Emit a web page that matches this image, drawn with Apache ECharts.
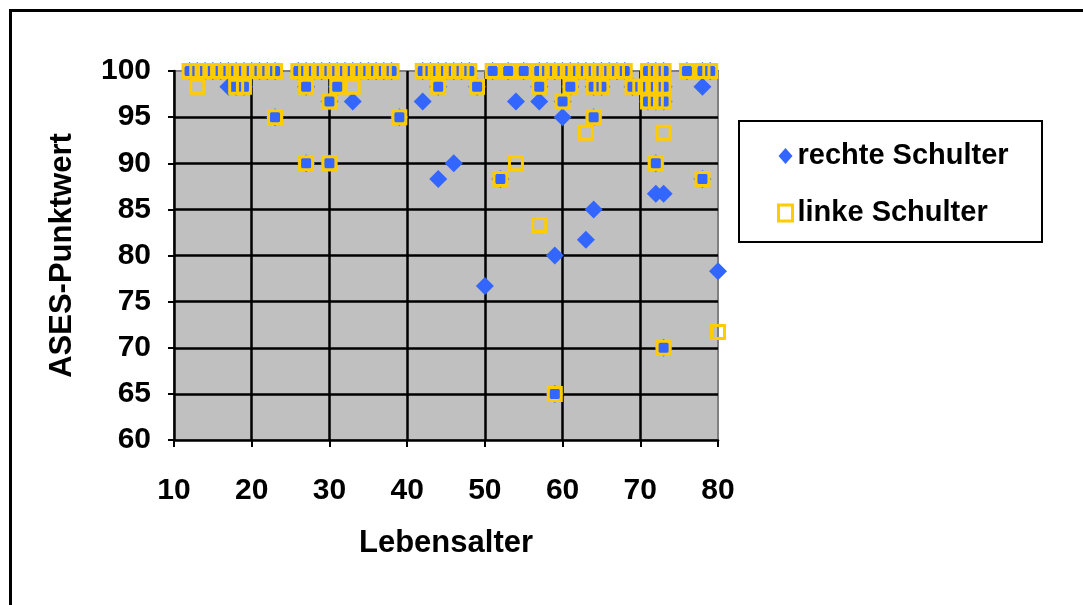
<!DOCTYPE html>
<html>
<head>
<meta charset="utf-8">
<script src="https://cdn.jsdelivr.net/npm/echarts@6/dist/echarts.min.js"></script>
<style>
  html, body { margin: 0; padding: 0; background: #fff; }
  #frame { position: absolute; left: 9px; top: 9px; width: 1200px; height: 700px;
           border-top: 3px solid #000; border-left: 3px solid #000; }
  #main { position: absolute; left: 0; top: 0; width: 1083px; height: 605px; }
</style>
</head>
<body>
<div id="frame"></div>
<div id="main"></div>
<script>
// Lebensalter / ASES-Punktwert, rechte Schulter
const rechteAlter = [
  12, 13, 14, 15, 16, 17, 18, 19, 20, 21, 22, 23,
  26, 27, 28, 29, 30, 31, 32, 33, 34, 35, 36, 37, 38,
  42, 43, 44, 45, 46, 47, 48,
  51, 53, 55, 57, 58, 59, 60, 61, 62, 63, 64, 65, 66, 67, 68,
  71, 72, 73, 76, 78, 79,
  17, 18, 19, 27, 31, 44, 49, 57, 61, 64, 65, 69, 70, 71, 72, 73, 78,
  30, 33, 42, 54, 57, 60, 71, 72, 73,
  23, 39, 60, 64,
  27, 30, 46, 72,
  44, 52, 78,
  72, 73,
  64, 63, 59, 80, 50, 73, 59
]
const rechteWert = [
  100, 100, 100, 100, 100, 100, 100, 100, 100, 100, 100, 100,
  100, 100, 100, 100, 100, 100, 100, 100, 100, 100, 100, 100, 100,
  100, 100, 100, 100, 100, 100, 100,
  100, 100, 100, 100, 100, 100, 100, 100, 100, 100, 100, 100, 100, 100, 100,
  100, 100, 100, 100, 100, 100,
  98.3, 98.3, 98.3, 98.3, 98.3, 98.3, 98.3, 98.3, 98.3, 98.3, 98.3, 98.3, 98.3, 98.3, 98.3, 98.3, 98.3,
  96.7, 96.7, 96.7, 96.7, 96.7, 96.7, 96.7, 96.7, 96.7,
  95, 95, 95, 95,
  90, 90, 90, 90,
  88.3, 88.3, 88.3,
  86.7, 86.7,
  85, 81.7, 80, 78.3, 76.7, 70, 65
]

// linke Schulter
const linkeAlter = [
  12, 13, 14, 15, 16, 17, 18, 19, 20, 21, 22, 23,
  26, 27, 28, 29, 30, 31, 32, 33, 34, 35, 36, 37, 38,
  42, 43, 44, 45, 46, 47, 48,
  51, 53, 55, 57, 58, 59, 60, 61, 62, 63, 64, 65, 66, 67, 68,
  71, 72, 73, 76, 78, 79,
  13, 18, 19, 27, 31, 33, 44, 49, 57, 61, 64, 65, 69, 70, 71, 72, 73,
  30, 60, 71, 72, 73,
  23, 39, 64,
  63, 73,
  27, 30, 54, 72,
  52, 78,
  57, 80, 73, 59
]
const linkeWert = [
  100, 100, 100, 100, 100, 100, 100, 100, 100, 100, 100, 100,
  100, 100, 100, 100, 100, 100, 100, 100, 100, 100, 100, 100, 100,
  100, 100, 100, 100, 100, 100, 100,
  100, 100, 100, 100, 100, 100, 100, 100, 100, 100, 100, 100, 100, 100, 100,
  100, 100, 100, 100, 100, 100,
  98.3, 98.3, 98.3, 98.3, 98.3, 98.3, 98.3, 98.3, 98.3, 98.3, 98.3, 98.3, 98.3, 98.3, 98.3, 98.3, 98.3,
  96.7, 96.7, 96.7, 96.7, 96.7,
  95, 95, 95,
  93.3, 93.3,
  90, 90, 90, 90,
  88.3, 88.3,
  83.3, 71.7, 70, 65
]

const seriesNamen = ['rechte Schulter', 'linke Schulter']

const schrift = '"Liberation Sans", Arial, sans-serif'

function paare(xs, ys) {
  return xs.map((x, i) => [x, ys[i]])
}

const myChart = echarts.init(document.getElementById('main'))

const option = {
  animation: false,
  textStyle: { fontFamily: schrift, fontWeight: 'bold', color: '#000' },
  grid: {
    left: 174,
    right: 365,
    top: 71,
    bottom: 165,
    show: true,
    backgroundColor: '#c0c0c0',
    borderColor: '#808080',
    borderWidth: 2,
  },
  graphic: [
    {
      type: 'rect',
      z: 0,
      shape: { x: 739, y: 121, width: 303, height: 121 },
      style: { fill: '#fff', stroke: '#000', lineWidth: 2 },
    },
  ],
  legend: {
    orient: 'vertical',
    left: 772,
    top: 135,
    itemWidth: 14,
    itemHeight: 16,
    itemGap: 25,
    textStyle: { fontFamily: schrift, fontWeight: 'bold', fontSize: 29, color: '#000', lineHeight: 32 },
    data: [
      { name: seriesNamen[0], icon: 'diamond', itemStyle: { color: '#3366FF' } },
      { name: seriesNamen[1], icon: 'rect', itemStyle: { color: '#fff', borderColor: '#FFCC00', borderWidth: 3 } },
    ],
  },
  xAxis: {
    type: 'value',
    min: 10,
    max: 80,
    interval: 10,
    name: 'Lebensalter',
    nameLocation: 'middle',
    nameGap: 88,
    nameTextStyle: { fontFamily: schrift, fontWeight: 'bold', fontSize: 31, color: '#000' },
    axisLine: { show: true, onZero: false, lineStyle: { color: '#000', width: 2.5 } },
    axisTick: { show: true, length: 7, lineStyle: { color: '#000', width: 2 } },
    axisLabel: { margin: 36, fontFamily: schrift, fontWeight: 'bold', fontSize: 30, color: '#000' },
    splitLine: { show: true, showMinLine: false, showMaxLine: false, lineStyle: { color: '#000', width: 2.5 } },
  },
  yAxis: {
    type: 'value',
    min: 60,
    max: 100,
    interval: 5,
    name: 'ASES-Punktwert',
    nameLocation: 'middle',
    nameGap: 96,
    nameTextStyle: { fontFamily: schrift, fontWeight: 'bold', fontSize: 31, color: '#000' },
    axisLine: { show: true, onZero: false, lineStyle: { color: '#000', width: 2.5 } },
    axisTick: { show: true, length: 6, lineStyle: { color: '#000', width: 2 } },
    axisLabel: { margin: 23, fontFamily: schrift, fontWeight: 'bold', fontSize: 30, color: '#000' },
    splitLine: { show: true, showMinLine: false, showMaxLine: false, lineStyle: { color: '#000', width: 2.5 } },
  },
  series: [
    {
      name: seriesNamen[0],
      type: 'scatter',
      symbol: 'diamond',
      symbolSize: 18,
      itemStyle: { color: '#3366FF', opacity: 1 },
      data: paare(rechteAlter, rechteWert),
    },
    {
      name: seriesNamen[1],
      type: 'scatter',
      symbol: 'rect',
      symbolSize: 13,
      itemStyle: { color: 'rgba(0,0,0,0)', borderColor: '#FFCC00', borderWidth: 3, opacity: 1 },
      data: paare(linkeAlter, linkeWert),
    },
  ],
}

myChart.setOption(option)
</script>
</body>
</html>
